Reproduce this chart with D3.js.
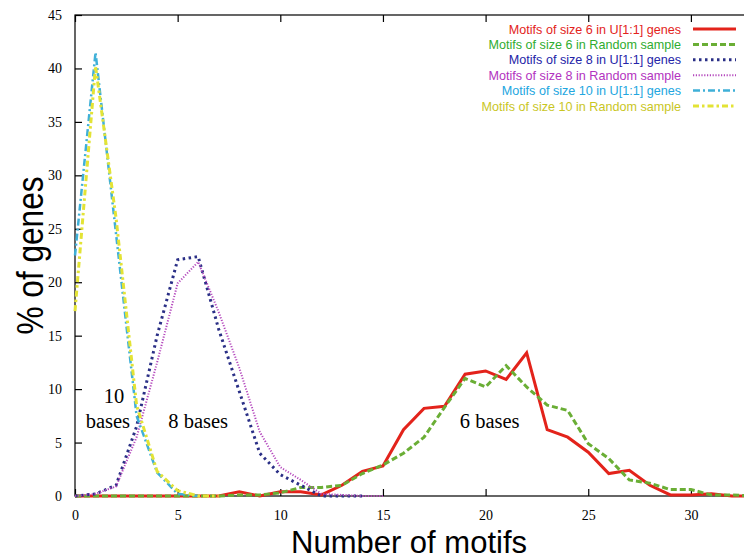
<!DOCTYPE html>
<html>
<head>
<meta charset="utf-8">
<script src="https://cdn.jsdelivr.net/npm/d3@7"></script>
<style>
  html, body { margin: 0; padding: 0; background: #fff; }
  svg { display: block; }
</style>
</head>
<body>
<svg id="chart" width="744" height="560"></svg>
<script>
// Motif counts per gene (x) and share of genes (%) for each motif size
const motifs6U  = [0,0,0,0,0,0,0,0,0.4,0,0.4,0.4,0.1,1.0,2.3,2.8,6.2,8.2,8.4,11.4,11.7,10.9,13.4,6.2,5.5,4.1,2.1,2.4,1.0,0.1,0.1,0.2,0,0];
const motifs6R  = [0,0,0,0,0,0,0,0,0.1,0.1,0.3,0.8,0.8,1.0,2.1,2.9,4.0,5.5,8.3,11.0,10.2,12.2,10.2,8.5,8.0,4.9,3.5,1.5,1.2,0.6,0.6,0.1,0.1,0];
const motifs8U  = [0,0.2,1.0,6.5,15.0,22.1,22.4,15.6,9.8,4.0,2.0,1.0,0,0,0];
const motifs8R  = [0,0.2,0.9,5.5,12.5,19.9,21.9,17.2,12.0,6.0,2.7,1.5,0.2,0.1,0,0];
const motifs10U = [22.5,41.5,24.5,7.5,2.2,0.2,0];
const motifs10R = [17.3,40.2,26.0,8.5,2.3,0.5,0,0];

const seriesNames = [
  "Motifs of size 6 in U[1:1] genes",
  "Motifs of size 6 in Random sample",
  "Motifs of size 8 in U[1:1] genes",
  "Motifs of size 8 in Random sample",
  "Motifs of size 10 in U[1:1] genes",
  "Motifs of size 10 in Random sample"
];
const xTicks = [0,5,10,15,20,25,30];
const yTicks = [0,5,10,15,20,25,30,35,40,45];
const peakLabels = [
  { text: "10", x: 1.9, y: 8.7 },
  { text: "bases", x: 1.6, y: 6.35 },
  { text: "8 bases", x: 6.0, y: 6.35 },
  { text: "6 bases", x: 20.2, y: 6.35 }
];

const styles = [
  { stroke: "#e3231b", text: "#e3231b", width: 3,   dash: null        },
  { stroke: "#6aae35", text: "#2fac2f", width: 3,   dash: "6,3"       },
  { stroke: "#2a2f86", text: "#2424a8", width: 3,   dash: "2.5,3.5"   },
  { stroke: "#b448bd", text: "#b232c0", width: 2,   dash: "1.2,1.6"   },
  { stroke: "#3fb0d8", text: "#22a6e0", width: 2.5, dash: "7,3,2,3"   },
  { stroke: "#e3e335", text: "#c9c61f", width: 3,   dash: "6,3,2.5,3" }
];
const allSeries = [motifs6U, motifs6R, motifs8U, motifs8R, motifs10U, motifs10R];

const svg = d3.select("#chart");
const plotLeft = 75, plotTop = 15, plotBottom = 496;
const x = d3.scaleLinear().domain([0, 35]).range([plotLeft, plotLeft + 35 * 20.53]);
const y = d3.scaleLinear().domain([0, 45]).range([plotBottom, plotTop]);
const plotRight = x(35);

// Plot frame
svg.append("rect")
  .attr("x", plotLeft).attr("y", plotTop)
  .attr("width", plotRight - plotLeft).attr("height", plotBottom - plotTop)
  .attr("fill", "none").attr("stroke", "#000").attr("stroke-width", 1.2);

// Axes with inward ticks (mirrored on the top edge)
const tickFont = "'Liberation Serif', 'Times New Roman', serif";
const xAxis = svg.append("g").attr("transform", `translate(0,${plotBottom})`)
  .call(d3.axisBottom(x).tickValues(xTicks).tickSizeInner(-7).tickSizeOuter(0).tickPadding(14));
const xAxisTop = svg.append("g").attr("transform", `translate(0,${plotTop})`)
  .call(d3.axisTop(x).tickValues(xTicks).tickSizeInner(-7).tickSizeOuter(0).tickFormat(""));
const yAxis = svg.append("g").attr("transform", `translate(${plotLeft},0)`)
  .call(d3.axisLeft(y).tickValues(yTicks).tickSizeInner(-7).tickSizeOuter(0).tickPadding(13));
[xAxis, xAxisTop, yAxis].forEach(g => {
  g.select(".domain").remove();
  g.selectAll(".tick line").attr("stroke", "#000").attr("stroke-width", 1.2);
  g.selectAll(".tick text").attr("font-family", tickFont).attr("font-size", 14).attr("fill", "#000");
});

// Series lines
const line = d3.line().x((d, i) => x(i)).y(d => y(d));
const plot = svg.append("g");
allSeries.forEach((vals, k) => {
  const s = styles[k];
  plot.append("path")
    .datum(vals)
    .attr("d", line)
    .attr("fill", "none")
    .attr("stroke", s.stroke)
    .attr("stroke-width", s.width)
    .attr("stroke-linejoin", "miter")
    .attr("stroke-dasharray", s.dash);
});

// Peak annotations
svg.append("g").selectAll("text").data(peakLabels).join("text")
  .attr("x", d => x(d.x)).attr("y", d => y(d.y))
  .attr("text-anchor", "middle")
  .attr("font-family", tickFont).attr("font-size", 20.5)
  .attr("fill", "#000")
  .text(d => d.text);

// Legend
const legend = svg.append("g");
const rowY = d3.scaleLinear().domain([0, 5]).range([29, 106]);
seriesNames.forEach((name, k) => {
  const s = styles[k];
  const yy = rowY(k);
  legend.append("text")
    .attr("x", 681).attr("y", yy + 4.5)
    .attr("text-anchor", "end")
    .attr("font-family", "'Liberation Sans', Arial, sans-serif")
    .attr("font-size", 12.6)
    .attr("fill", s.text)
    .text(name);
  legend.append("line")
    .attr("x1", 693).attr("x2", 736)
    .attr("y1", yy).attr("y2", yy)
    .attr("stroke", s.stroke)
    .attr("stroke-width", s.width)
    .attr("stroke-dasharray", s.dash);
});

// Axis titles (narrow sans)
svg.append("text")
  .attr("transform", `translate(43,${(plotTop + plotBottom) / 2}) rotate(-90)`)
  .attr("text-anchor", "middle")
  .attr("font-family", "'Liberation Sans', Arial, sans-serif")
  .attr("font-size", 37)
  .attr("textLength", 158)
  .attr("lengthAdjust", "spacingAndGlyphs")
  .attr("fill", "#000")
  .text("% of genes");
svg.append("text")
  .attr("x", 409).attr("y", 553)
  .attr("text-anchor", "middle")
  .attr("font-family", "'Liberation Sans', Arial, sans-serif")
  .attr("font-size", 31)
  .attr("textLength", 236)
  .attr("lengthAdjust", "spacingAndGlyphs")
  .attr("fill", "#000")
  .text("Number of motifs");
</script>
</body>
</html>
